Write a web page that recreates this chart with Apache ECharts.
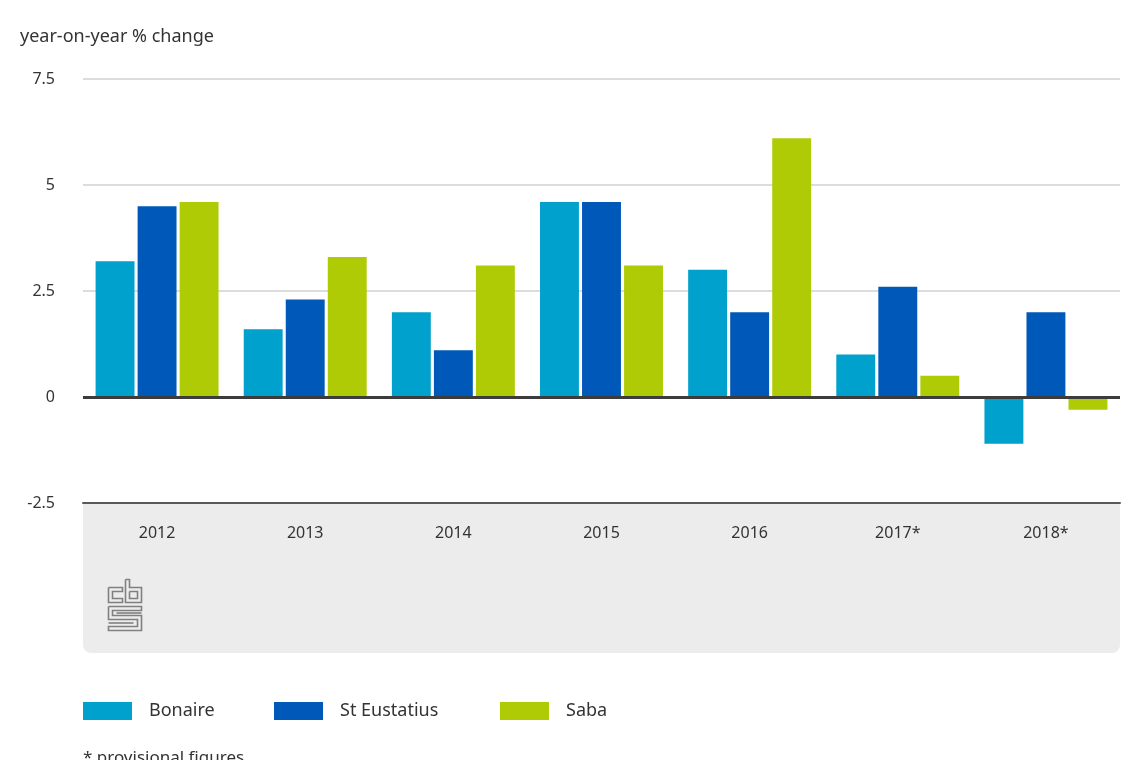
<!DOCTYPE html>
<html>
<head>
<meta charset="utf-8">
<script src="https://cdn.jsdelivr.net/npm/echarts@6/dist/echarts.min.js"></script>
<style>
html,body{margin:0;padding:0;background:#fff;}
#chart{width:1140px;height:760px;}
</style>
</head>
<body>
<div id="chart"></div>
<script>
const categories = ['2012', '2013', '2014', '2015', '2016', '2017*', '2018*'];
const bonaire = [3.2, 1.6, 2.0, 4.6, 3.0, 1.0, -1.1];
const stEustatius = [4.5, 2.3, 1.1, 4.6, 2.0, 2.6, 2.0];
const saba = [4.6, 3.3, 3.1, 3.1, 6.1, 0.5, -0.3];
const seriesNames = ['Bonaire', 'St Eustatius', 'Saba'];
const colors = ['#00a1cd', '#0058b8', '#afcb05'];
const yTicks = { min: -2.5, max: 7.5, interval: 2.5 };

const FONT = 'Noto Sans';
const chart = echarts.init(document.getElementById('chart'), null, { renderer: 'canvas' });

const legendLefts = [78, 269, 495];
const legends = seriesNames.map((n, i) => ({
  data: [n],
  left: legendLefts[i],
  top: 697,
  icon: 'rect',
  itemWidth: 49,
  itemHeight: 18,
  selectedMode: false,
  textStyle: { fontFamily: FONT, fontSize: 18, color: '#333', padding: [0, 0, 0, 12] }
}));

const logoStroke = { stroke: '#808080', lineWidth: 1.6, fill: null };
const option = {
  animation: false,
  backgroundColor: '#fff',
  title: [
    { text: 'year-on-year % change', left: 15, top: 23,
      textStyle: { fontFamily: FONT, fontSize: 18, fontWeight: 'normal', color: '#333' } },
    { text: '* provisional figures', left: 78, top: 745,
      textStyle: { fontFamily: FONT, fontSize: 17, fontWeight: 'normal', color: '#333' } }
  ],
  legend: legends,
  grid: { left: 83, right: 20, top: 79, bottom: 257, containLabel: false },
  graphic: [
    { type: 'rect', z: -10, shape: { x: 83, y: 503, width: 1037, height: 150, r: [0, 0, 8, 8] },
      style: { fill: '#ececec' } },
    { type: 'group', left: 106, top: 577, z: 5, children: [
      { type: 'polyline', shape: { points: [[17,0],[21,0],[21,8],[33,8],[33,23],[17,23],[17,0]] }, style: logoStroke },
      { type: 'polyline', shape: { points: [[21,12],[29,12],[29,19],[21,19],[21,12]] }, style: logoStroke },
      { type: 'polyline', shape: { points: [[0,8],[14,8],[14,12],[4,12],[4,19],[14,19],[14,23],[0,23],[0,8]] }, style: logoStroke },
      { type: 'polyline', shape: { points: [[0,27],[33,27],[33,31],[4,31],[4,36],[33,36],[33,51],[0,51],[0,47],[29,47],[29,40],[0,40],[0,27]] }, style: logoStroke },
      { type: 'polyline', shape: { points: [[8,33.5],[33,33.5]] }, style: logoStroke },
      { type: 'polyline', shape: { points: [[0,43.5],[25,43.5]] }, style: logoStroke }
    ]}
  ],
  xAxis: {
    type: 'category',
    data: categories,
    axisLine: { onZero: false, lineStyle: { color: '#5a5a5a', width: 2 } },
    axisTick: { show: false },
    axisLabel: { fontFamily: FONT, fontSize: 16, color: '#333', margin: 22 },
    splitLine: { show: false }
  },
  yAxis: {
    type: 'value',
    min: yTicks.min, max: yTicks.max, interval: yTicks.interval,
    axisLine: { show: false },
    axisTick: { show: false },
    axisLabel: { fontFamily: FONT, fontSize: 16, color: '#333', margin: 28 },
    splitLine: { lineStyle: { color: '#d0d0d0', width: 1.5 } }
  },
  series: [bonaire, stEustatius, saba].map((d, i) => ({
    name: seriesNames[i],
    type: 'bar',
    data: d,
    itemStyle: { color: colors[i] },
    barCategoryGap: '17%',
    barGap: '8%',
    markLine: i === 0 ? {
      silent: true, symbol: 'none', label: { show: false },
      lineStyle: { color: '#3c3c3c', width: 3, type: 'solid' },
      data: [{ yAxis: 0 }]
    } : undefined
  }))
};
chart.setOption(option);
</script>
</body>
</html>
